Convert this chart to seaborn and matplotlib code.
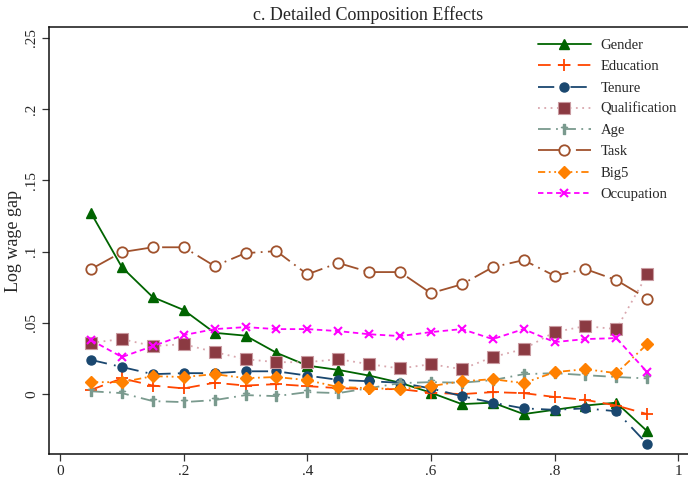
import matplotlib
matplotlib.use("Agg")
import matplotlib.pyplot as plt
import seaborn as sns
import pandas as pd
import numpy as np

quantiles = [0.05, 0.10, 0.15, 0.20, 0.25, 0.30, 0.35, 0.40, 0.45, 0.50,
             0.55, 0.60, 0.65, 0.70, 0.75, 0.80, 0.85, 0.90, 0.95]

gender = [0.127, 0.089, 0.068, 0.059, 0.043, 0.041, 0.029, 0.020, 0.017, 0.013,
          0.008, 0.001, -0.007, -0.006, -0.014, -0.011, -0.008, -0.006, -0.026]
education = [0.003, 0.011, 0.006, 0.004, 0.008, 0.006, 0.007, 0.0056, 0.0042, 0.0035,
             0.0035, 0.001, 0.000, 0.0014, 0.0007, -0.002, -0.004, -0.008, -0.014]
tenure = [0.024, 0.019, 0.014, 0.0147, 0.0147, 0.016, 0.016, 0.013, 0.010, 0.009,
          0.008, 0.004, -0.0014, -0.006, -0.010, -0.011, -0.010, -0.012, -0.035]
qualification = [0.036, 0.0386, 0.0337, 0.035, 0.0295, 0.0245, 0.0224, 0.0224, 0.0245, 0.021,
                 0.018, 0.021, 0.0175, 0.026, 0.0316, 0.0435, 0.0477, 0.0456, 0.084]
age = [0.002, 0.0007, -0.0049, -0.0056, -0.0042, -0.0007, -0.0014, 0.0014, 0.0007, 0.0042,
       0.0077, 0.0084, 0.0080, 0.0098, 0.014, 0.0147, 0.0133, 0.012, 0.011]
task = [0.0877, 0.0996, 0.103, 0.103, 0.0898, 0.0989, 0.1003, 0.084, 0.092, 0.0856,
        0.0856, 0.0708, 0.077, 0.089, 0.094, 0.083, 0.0877, 0.080, 0.067]
big5 = [0.0084, 0.0084, 0.0126, 0.012, 0.014, 0.0112, 0.012, 0.0098, 0.005, 0.0042,
        0.0035, 0.0056, 0.009, 0.0105, 0.0077, 0.0154, 0.0175, 0.0147, 0.035]
occupation = [0.0379, 0.026, 0.0337, 0.0414, 0.0456, 0.047, 0.0456, 0.0456, 0.0442, 0.042,
              0.0407, 0.0435, 0.0456, 0.0386, 0.0456, 0.0365, 0.0386, 0.0393, 0.0154]

series_names = ["Gender", "Education", "Tenure", "Qualification", "Age", "Task", "Big5", "Occupation"]
series_values = [gender, education, tenure, qualification, age, task, big5, occupation]

x_ticks = [0, 0.2, 0.4, 0.6, 0.8, 1.0]
x_tick_labels = ["0", ".2", ".4", ".6", ".8", "1"]
y_ticks = [0, 0.05, 0.10, 0.15, 0.20, 0.25]
y_tick_labels = ["0", ".05", ".1", ".15", ".2", ".25"]

sns.set_style("white")
plt.rcParams["font.family"] = ["Liberation Serif", "DejaVu Serif"]

styles = {
    "Gender": dict(color="#006400", ls="-", marker="^", ms=7.5, mfc="#006400", mec="#006400"),
    "Education": dict(color="#ff4500", ls=(0, (7, 4)), marker="+", ms=9, mew=1.3, mfc="#ff4500", mec="#ff4500"),
    "Tenure": dict(color="#1a476f", ls=(0, (9, 4, 1, 4)), marker="o", ms=6.5, mfc="#1a476f", mec="#1a476f"),
    "Qualification": dict(color="#d9a7ae", ls=(0, (1, 2.5)), marker="s", ms=8, mfc="#8b3a42", mec="#c99aa0", mew=0.8),
    "Age": dict(color="#7a9a8e", ls=(0, (7, 3, 1, 3)), marker="$\u2020$", ms=7, mfc="#7a9a8e", mec="#7a9a8e"),
    "Task": dict(color="#a0522d", ls=(0, (14, 3, 1, 3)), marker="o", ms=7.5, mfc="white", mec="#a0522d", mew=1.3),
    "Big5": dict(color="#ff8000", ls=(0, (4, 2, 1, 2, 1, 2)), marker="D", ms=6.5, mfc="#ff8000", mec="#ff8000"),
    "Occupation": dict(color="#ff00ff", ls=(0, (3, 2)), marker="x", ms=6, mew=1.5, mfc="#ff00ff", mec="#ff00ff"),
}

fig = plt.figure(figsize=(6.88, 4.79), dpi=100)
ax = fig.add_axes([49 / 688, 25 / 479, 639 / 688, 427 / 479])

for name, vals in zip(series_names, series_values):
    df = pd.DataFrame({"q": quantiles, "v": vals})
    st = styles[name]
    sns.lineplot(data=df, x="q", y="v", ax=ax, color=st["color"], linestyle=st["ls"],
                 marker=st["marker"], markersize=st["ms"], markerfacecolor=st["mfc"],
                 markeredgecolor=st["mec"], markeredgewidth=st.get("mew", 1.0),
                 linewidth=1.3, label=name)

ax.set_xlim(-0.018, 1.016)
ax.set_ylim(-0.042, 0.2575)
ax.set_xticks(x_ticks)
ax.set_xticklabels(x_tick_labels, fontsize=11)
ax.set_yticks(y_ticks)
ax.set_yticklabels(y_tick_labels, fontsize=11, rotation=90, va="center")
ax.tick_params(axis="both", direction="out", length=5, width=0.9, color="#333333", pad=3, bottom=True, left=True)
ax.set_xlabel("")
ax.set_ylabel("Log wage gap", fontsize=13, labelpad=2)
ax.set_title("c. Detailed Composition Effects", fontsize=13, pad=5)
for s in ["left", "top", "bottom"]:
    ax.spines[s].set_color("#111111")
    ax.spines[s].set_linewidth(1.1)
ax.spines["right"].set_visible(False)

ax.legend(loc="upper left", bbox_to_anchor=(538 / 688, 1 - 39 / 479), bbox_transform=fig.transFigure,
          frameon=False, fontsize=10.5, handlelength=3.6, handletextpad=0.7, labelspacing=0.55,
          borderaxespad=0, borderpad=0)

fig.savefig("out.png", dpi=100)
